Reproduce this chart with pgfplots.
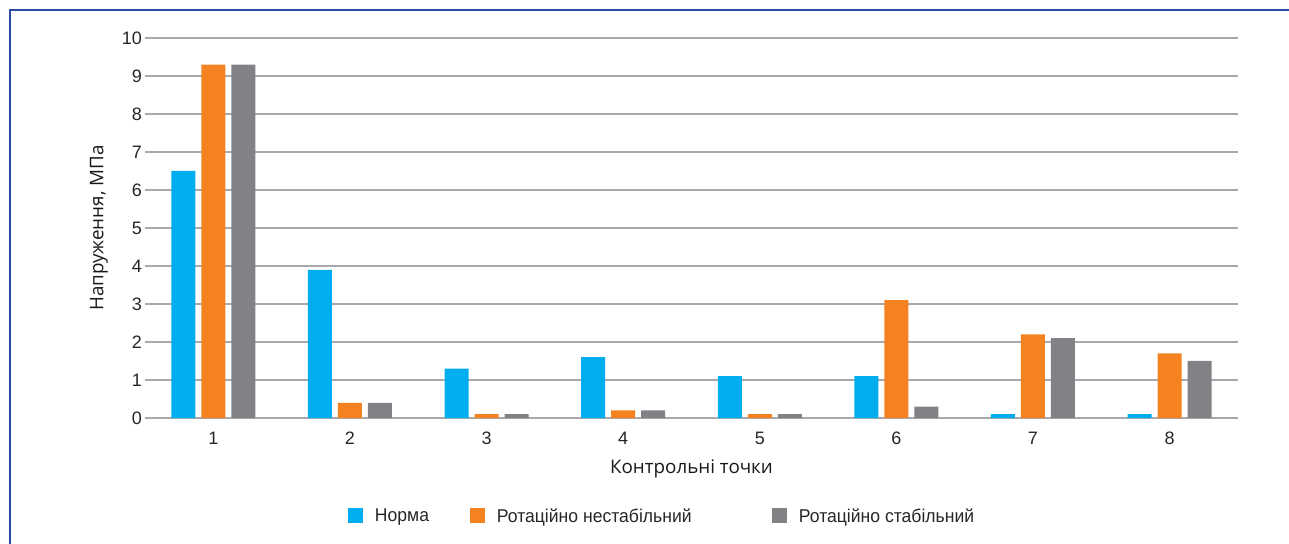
\documentclass[border=0pt]{standalone}
\usepackage{pgfplots}
\pgfplotsset{compat=1.18}
\usepackage{fontspec}
\setmainfont{Liberation Sans}
\newfontfamily\legendfont[FakeStretch=0.95]{Liberation Sans}
\newfontfamily\labelfont{Open Sans}

\definecolor{cnorm}{HTML}{00AEEF}
\definecolor{cunst}{HTML}{F58220}
\definecolor{cstab}{HTML}{808285}
\definecolor{cgrid}{HTML}{A7A9AC}
\definecolor{cframe}{HTML}{2B4CA3}

\begin{document}
\begin{tikzpicture}
\path[use as bounding box] (0pt,0pt) rectangle (1289pt,543pt);
% page frame
\draw[cframe, line width=2.5pt] (10pt,-3pt) -- (10pt,533pt) -- (1295pt,533pt);
\begin{axis}[
  at={(145pt,125pt)}, anchor=south west,
  scale only axis, width=1093pt, height=380pt,
  ybar=6pt, bar width=24pt,
  xmin=0.5, xmax=8.5, ymin=0, ymax=10,
  xtick={1,...,8}, ytick={0,...,10},
  axis line style={draw=none},
  major tick length=0pt,
  ymajorgrids, grid style={cgrid, line width=2pt},
  /pgf/number format/assume math mode=true,
  tick label style={font=\fontsize{18}{20}\selectfont, text=black!85},
  yticklabel style={inner sep=0pt, xshift=-3pt},
  xticklabel style={inner sep=0pt, yshift=-14pt},
  label style={font=\labelfont\fontsize{18.8}{22}\selectfont, text=black!90},
  xlabel={Контрольні точки},
  ylabel={Напруження, МПа},
  xlabel style={at={(axis description cs:0.5,-0.1466)}, anchor=base},
  ylabel style={at={(axis description cs:-0.0382,0.5)}, anchor=base},
  legend columns=3,
  legend style={draw=none, fill=none, inner sep=0pt, outer sep=0pt,
    at={(axis description cs:0.1857,-0.2579)}, anchor=west,
    font=\legendfont\fontsize{18.5}{20}\selectfont,
    nodes={inner sep=0pt, text=black!85},
    /tikz/every odd column/.style={column sep=12pt},
    /tikz/every even column/.style={column sep=0pt}},
  legend image code/.code={\fill[#1, draw=none] (0pt,-7pt) rectangle (15pt,8pt);},
]
\addplot[fill=cnorm, draw=none] coordinates {(1,6.5) (2,3.9) (3,1.3) (4,1.6) (5,1.1) (6,1.1) (7,0.1) (8,0.1)};
\addplot[fill=cunst, draw=none] coordinates {(1,9.3) (2,0.4) (3,0.1) (4,0.2) (5,0.1) (6,3.1) (7,2.2) (8,1.7)};
\addplot[fill=cstab, draw=none] coordinates {(1,9.3) (2,0.4) (3,0.1) (4,0.2) (5,0.1) (6,0.3) (7,2.1) (8,1.5)};
\legend{\makebox[95pt][l]{Норма}, \makebox[275pt][l]{Ротаційно нестабільний}, Ротаційно стабільний}
\end{axis}
\end{tikzpicture}
\end{document}
